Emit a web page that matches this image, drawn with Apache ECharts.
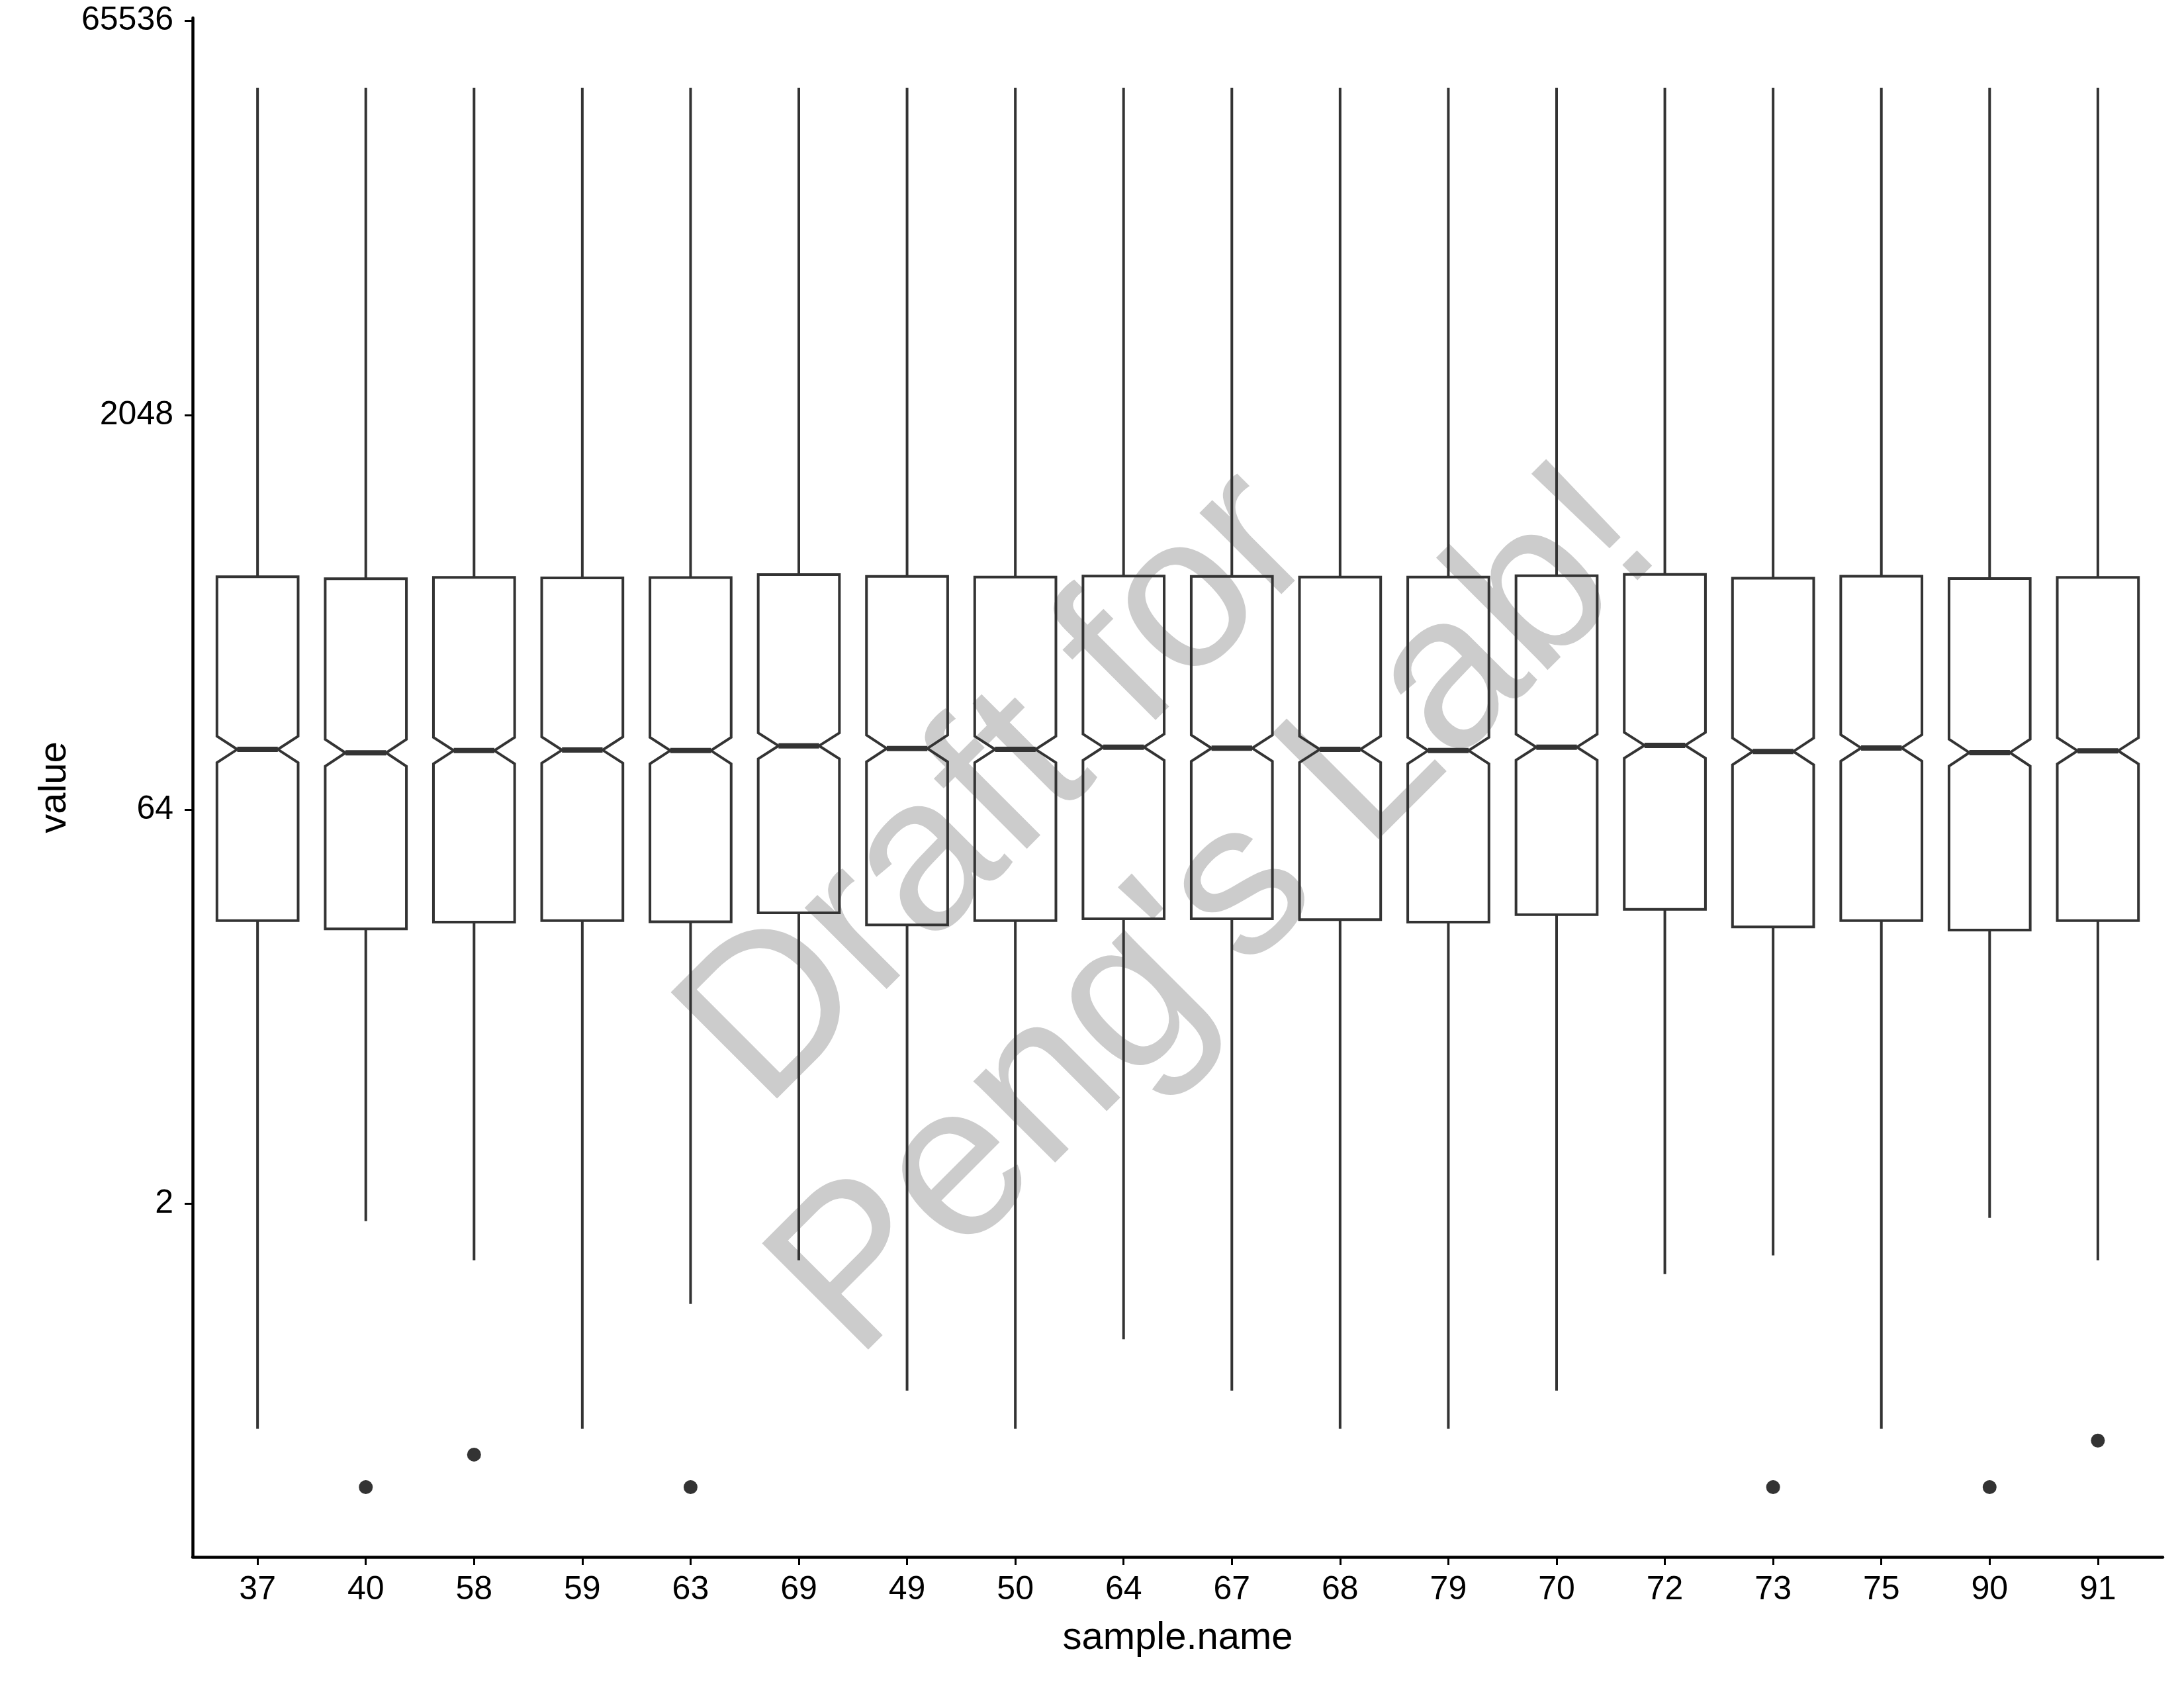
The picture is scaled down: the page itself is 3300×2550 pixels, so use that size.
<!DOCTYPE html>
<html><head><meta charset="utf-8">
<script src="https://cdn.jsdelivr.net/npm/echarts@6/dist/echarts.min.js"></script>
<style>html,body{margin:0;padding:0;background:#fff}#chart{width:3300px;height:2550px}</style>
</head><body><div id="chart"></div>
<script>
// ---- data (original units, plotted on a log2 scale) ----
const categories = ['37','40','58','59','63','69','49','50','64','67','68','79','70','72','73','75','90','91'];
const whiskerHigh = [36300,36300,36300,36300,36300,36300,36300,36300,36300,36300,36300,36300,36300,36300,36300,36300,36300,36300];
const q3 = [495,486,492,490,491,504,496,493,498,496,493,493,499,505,488,497,487,492];
const median = [108.5,105.3,107.4,107.9,107.4,112.0,109.4,108.5,110.7,109.7,108.5,107.4,110.7,112.5,106.6,109.9,105.5,107.2];
const q1 = [24.1,22.4,23.8,24.1,23.85,25.8,23.2,24.1,24.5,24.5,24.3,23.8,25.4,26.6,22.8,24.1,22.2,24.1];
const whiskerLow = [0.277,1.72,1.218,0.277,0.831,1.218,0.388,0.277,0.609,0.388,0.277,0.277,0.388,1.08,1.273,0.277,1.77,1.218];
const outlierSample = ['40','58','63','73','90','91'];
const outlierValue = [0.166,0.221,0.166,0.166,0.166,0.25];
const yTickLabels = [2, 64, 2048, 65536];
const watermarkLines = ['Draft for', "Peng's Lab!"];
const nObs = 1700; // estimated observations per sample (sets notch height)

const FONT = 'Liberation Sans';
const LINE = '#333333';

const boxData = categories.map((c, i) => [i,
  Math.log2(whiskerLow[i]), Math.log2(q1[i]), Math.log2(median[i]), Math.log2(q3[i]), Math.log2(whiskerHigh[i])]);
const outlierData = outlierSample.map((s, k) => [categories.indexOf(s), Math.log2(outlierValue[k])]);
const yTickPos = yTickLabels.map(v => Math.log2(v));
const xTickPos = categories.map((c, i) => i);

function renderBox(params, api) {
  const i = api.value(0);
  const lo = api.value(1), a = api.value(2), m = api.value(3), b = api.value(4), hi = api.value(5);
  const notch = 1.58 * (b - a) / Math.sqrt(nObs);
  const hw = 0.375, ind = hw * 0.5;
  const xl = i - hw, xr = i + hw;
  const C = (x, y) => api.coord([x, y]);
  const poly = [C(xl, b), C(xl, m + notch), C(xl + ind, m), C(xl, m - notch), C(xl, a),
                C(xr, a), C(xr, m - notch), C(xr - ind, m), C(xr, m + notch), C(xr, b)];
  const lw = 4;
  const p1 = C(i, b), p2 = C(i, hi), p3 = C(i, a), p4 = C(i, lo);
  const m1 = C(xl + ind, m), m2 = C(xr - ind, m);
  return { type: 'group', children: [
    { type: 'line', shape: { x1: p1[0], y1: p1[1], x2: p2[0], y2: p2[1] }, style: { stroke: LINE, lineWidth: lw } },
    { type: 'line', shape: { x1: p3[0], y1: p3[1], x2: p4[0], y2: p4[1] }, style: { stroke: LINE, lineWidth: lw } },
    { type: 'polygon', shape: { points: poly }, style: { stroke: LINE, lineWidth: lw, fill: null } },
    { type: 'line', shape: { x1: m1[0], y1: m1[1], x2: m2[0], y2: m2[1] }, style: { stroke: LINE, lineWidth: 8 } }
  ]};
}

const wmStyle = (t) => ({ text: t, font: '330px "Liberation Sans"', fill: '#cccccc', align: 'center', verticalAlign: 'middle' });

const chart = echarts.init(document.getElementById('chart'), null, { renderer: 'canvas' });
chart.setOption({
  animation: false,
  backgroundColor: '#ffffff',
  grid: { left: 291, right: 32, top: 27, bottom: 198 },
  graphic: [
    { type: 'text', x: 1512, y: 1193, rotation: Math.PI / 4, z: -10, silent: true, style: wmStyle(watermarkLines[0]) },
    { type: 'text', x: 1841, y: 1381, rotation: Math.PI / 4, z: -10, silent: true, style: wmStyle(watermarkLines[1]) }
  ],
  xAxis: {
    type: 'value', min: -0.6, max: 17.6,
    axisLine: { show: true, onZero: false, lineStyle: { color: '#000', width: 4.5 } },
    axisTick: { show: true, length: 12, customValues: xTickPos, lineStyle: { color: '#000', width: 3 } },
    axisLabel: { customValues: xTickPos, formatter: v => categories[Math.round(v)], fontSize: 50, color: '#000', fontFamily: FONT, margin: 25 },
    splitLine: { show: false },
    name: 'sample.name', nameLocation: 'middle', nameGap: 94,
    nameTextStyle: { fontSize: 58, color: '#000', fontFamily: FONT }
  },
  yAxis: {
    type: 'value', min: -3.475, max: 16.035,
    axisLine: { show: true, onZero: false, lineStyle: { color: '#000', width: 4.5 } },
    axisTick: { show: true, length: 12, customValues: yTickPos, lineStyle: { color: '#000', width: 3 } },
    axisLabel: { customValues: yTickPos, formatter: v => String(Math.round(Math.pow(2, v))), fontSize: 50, color: '#000', fontFamily: FONT, margin: 29 },
    splitLine: { show: false },
    name: 'value', nameLocation: 'middle', nameGap: 179,
    nameTextStyle: { fontSize: 58, color: '#000', fontFamily: FONT }
  },
  series: [
    { type: 'custom', renderItem: renderBox, data: boxData, encode: { x: 0, y: [1, 2, 3, 4, 5] }, z: 2, clip: false },
    { type: 'scatter', data: outlierData, symbol: 'circle', symbolSize: 21, itemStyle: { color: LINE, opacity: 1 }, z: 3 }
  ]
});
</script></body></html>
